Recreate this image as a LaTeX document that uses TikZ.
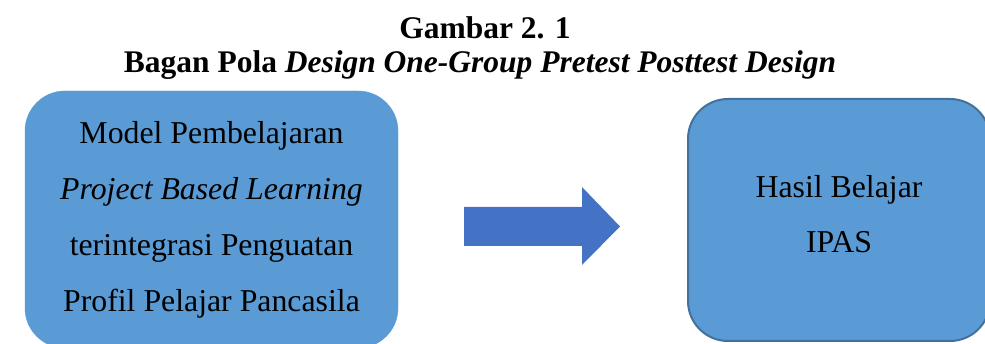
\documentclass[tikz,border=0pt]{standalone}
\usepackage{fontspec}
\setmainfont{Liberation Serif}
\usetikzlibrary{positioning}

\definecolor{kotakbiru}{HTML}{5B9BD5}
\definecolor{garisbiru}{HTML}{41719C}
\definecolor{panahbiru}{HTML}{4472C4}

\begin{document}
\begin{tikzpicture}[x=1pt, y=-1pt,
  kotak/.style={rounded corners=40pt, fill=kotakbiru, align=center, inner sep=0pt, font=\fontsize{31.8}{56}\selectfont},
  teks/.style={align=center, inner sep=0pt, font=\fontsize{31.8}{55}\selectfont},
  judul/.style={anchor=base, font=\fontsize{31.5}{32}\selectfont\bfseries}]
  \useasboundingbox (0,0) rectangle (985,344);
  \clip (0,0) rectangle (985,344);

  % Judul gambar
  \node[judul] (judul1) at (485,39) {Gambar 2. 1};
  \node[judul] (judul2) at (480,73) {Bagan Pola \textit{Design One-Group Pretest Posttest Design}};

  % Kotak
  \node[kotak, draw=kotakbiru, minimum width=373pt, minimum height=257pt] (model) at (211.5,219.5)
    {Model Pembelajaran\\ \textit{Project Based Learning}\\ terintegrasi Penguatan\\ Profil Pelajar Pancasila};
  \node[kotak, draw=garisbiru, line width=2pt, minimum width=302pt, minimum height=242pt] (hasil) at (839,220) {};
  \node[teks] (hasilteks) at ([yshift=6pt]hasil.center) {Hasil Belajar\\ IPAS};

  % Panah blok
  \coordinate (panah) at (464,226.5);
  \fill[panahbiru] (panah) ++(0,-19.5) -- ++(118,0) -- ++(0,-20) -- ++(38,39.5) -- ++(-38,38.5) -- ++(0,-19) -- ++(-118,0) -- cycle;
\end{tikzpicture}
\end{document}
